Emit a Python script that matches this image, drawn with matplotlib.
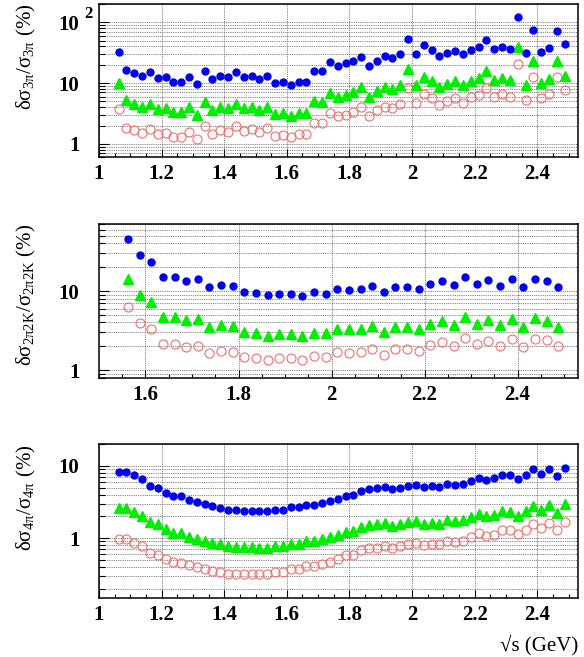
import numpy as np
import matplotlib
matplotlib.use("Agg")
import matplotlib.pyplot as plt
from matplotlib.ticker import LogLocator, FixedLocator, MultipleLocator, NullFormatter, FormatStrFormatter
import matplotlib.transforms as mtransforms

plt.rcParams['font.family'] = ['Liberation Serif', 'DejaVu Serif']
plt.rcParams['mathtext.fontset'] = 'custom'
plt.rcParams['mathtext.rm'] = 'Liberation Serif'
plt.rcParams['mathtext.it'] = 'Liberation Serif:italic'
plt.rcParams['mathtext.bf'] = 'Liberation Serif:bold'

# energy points (GeV), 25 MeV steps
e_full = np.arange(1.0625, 2.49, 0.025)
e_kk = np.arange(1.5625, 2.49, 0.025)

# 3pi relative errors (%)
pi3_blue = [33, 16.6, 14.4, 13.3, 15.2, 12.2, 12.6, 10.6, 10.6, 12.8, 9.7, 15.5, 11.6, 13.2, 12.4,
            15.0, 12.4, 13.2, 11.5, 13.0, 9.9, 10.5, 9.3, 10.4, 10.4, 16.0, 15.5, 22.0, 19.0,
            21.3, 22.7, 27.1, 19.3, 23.0, 27.4, 25.4, 30.0, 53.7, 30.4, 41.7, 35.4, 27.8, 31.2, 34.0,
            29.6, 35.4, 38.6, 50.4, 35.8, 39.2, 36.3, 123.6, 31.2, 74.6, 32.4, 37.8, 72.8, 43.3]
pi3_green = [10.2, 5.2, 4.5, 4.1, 4.6, 3.7, 3.9, 3.3, 3.3, 4.0, 3.0, 4.8, 3.6, 4.1, 3.9,
             4.6, 3.85, 4.1, 3.6, 4.05, 3.04, 3.24, 2.9, 3.2, 3.2, 5.0, 4.9, 6.8, 5.9,
             6.4, 7.1, 8.5, 5.9, 7.3, 8.5, 8.0, 9.3, 17.0, 9.3, 12.8, 11.0, 8.6, 9.6, 10.8,
             9.3, 11.0, 12.2, 16.0, 11.3, 12.2, 11.3, 38.6, 9.4, 22.7, 10.2, 11.8, 22.7, 13.2]
pi3_red = [3.7, 1.84, 1.66, 1.53, 1.77, 1.46, 1.48, 1.30, 1.30, 1.56, 1.22, 1.98, 1.46, 1.68, 1.57,
           1.94, 1.64, 1.77, 1.56, 1.80, 1.36, 1.41, 1.30, 1.44, 1.44, 2.24, 2.24, 3.2, 2.86,
           3.0, 3.37, 4.07, 2.9, 3.54, 4.1, 3.9, 4.56, 8.4, 4.7, 6.5, 5.6, 4.4, 5.0, 5.6,
           4.7, 5.8, 6.4, 8.2, 5.9, 6.6, 5.95, 20.8, 5.2, 12.8, 5.7, 6.7, 12.7, 7.55]

# 2pi2K relative errors (%)
kk_blue = [45.5, 28.6, 23.1, 14.9, 15.2, 13.6, 14.1, 11.2, 11.8, 11.5, 9.8, 9.5, 8.8, 9.3, 9.2,
           8.7, 9.6, 9.3, 10.7, 10.4, 10.6, 11.5, 9.8, 11.3, 11.2, 10.7, 12.4, 13.4, 11.9,
           15.0, 12.4, 13.8, 11.7, 14.2, 11.3, 14.3, 13.5, 11.2]
kk_green = [14.1, 8.8, 7.2, 4.7, 4.7, 4.25, 4.4, 3.5, 3.7, 3.57, 3.03, 2.91, 2.72, 2.86, 2.83,
            2.72, 2.97, 2.91, 3.33, 3.27, 3.33, 3.57, 3.0, 3.53, 3.5, 3.33, 3.86, 4.17, 3.67,
            4.64, 3.86, 4.3, 3.67, 4.47, 3.53, 4.51, 4.21, 3.5]
kk_red = [6.2, 3.94, 3.27, 2.11, 2.15, 1.97, 2.03, 1.63, 1.72, 1.69, 1.45, 1.41, 1.33, 1.42, 1.42,
          1.35, 1.49, 1.45, 1.69, 1.66, 1.69, 1.86, 1.56, 1.86, 1.84, 1.74, 2.07, 2.24, 2.01,
          2.54, 2.11, 2.35, 2.03, 2.49, 1.97, 2.49, 2.4, 2.03]

# 4pi relative errors (%)
pi4_blue = [8.3, 8.25, 7.4, 6.6, 5.28, 4.96, 4.27, 3.8, 3.8, 3.35, 3.14, 2.95, 2.8, 2.65, 2.46,
            2.44, 2.41, 2.41, 2.39, 2.39, 2.49, 2.46, 2.68, 2.68, 2.89, 2.9, 3.08, 3.28, 3.47,
            3.8, 3.93, 4.5, 4.8, 4.91, 5.17, 4.75, 5.01, 5.28, 5.51, 5.12, 5.23, 5.12, 5.69, 5.51,
            5.57, 6.26, 6.89, 6.46, 6.74, 7.41, 7.41, 6.67, 7.5, 8.97, 7.82, 9.17, 7.18, 9.46]
pi4_green = [2.6, 2.58, 2.34, 2.06, 1.66, 1.56, 1.35, 1.19, 1.19, 1.04, 0.98, 0.92, 0.87, 0.835, 0.775,
             0.76, 0.75, 0.75, 0.735, 0.735, 0.775, 0.77, 0.84, 0.835, 0.91, 0.92, 0.98, 1.04, 1.09,
             1.21, 1.25, 1.43, 1.51, 1.55, 1.63, 1.46, 1.58, 1.68, 1.75, 1.59, 1.63, 1.58, 1.79, 1.75,
             1.79, 1.97, 2.17, 2.04, 2.1, 2.36, 2.34, 2.06, 2.36, 2.83, 2.44, 2.89, 2.24, 3.01]
pi4_red = [0.96, 0.96, 0.87, 0.775, 0.614, 0.589, 0.507, 0.466, 0.456, 0.419, 0.394, 0.373, 0.354, 0.339, 0.322,
           0.318, 0.315, 0.318, 0.318, 0.318, 0.339, 0.339, 0.373, 0.377, 0.406, 0.416, 0.442, 0.466, 0.507,
           0.576, 0.589, 0.683, 0.728, 0.743, 0.792, 0.743, 0.775, 0.826, 0.862, 0.809, 0.826, 0.826, 0.929, 0.89,
           0.9, 1.054, 1.19, 1.08, 1.12, 1.29, 1.29, 1.15, 1.28, 1.55, 1.37, 1.61, 1.29, 1.7]

ylabels = [r'δσ$_{\mathrm{3π}}$/σ$_{\mathrm{3π}}$ (%)',
           r'δσ$_{\mathrm{2π2K}}$/σ$_{\mathrm{2π2K}}$ (%)',
           r'δσ$_{\mathrm{4π}}$/σ$_{\mathrm{4π}}$ (%)']


def draw_panel(ax, x, blue, green, red, xlim, ylim, yticks, ylabel):
    ax.plot(x, red, 'o', ms=6.5, mfc='none', mec='#f07070', mew=0.8, ls='none')
    ax.plot(x, green, '^', ms=7, color='#00ee00', ls='none')
    ax.plot(x, blue, 'o', ms=5, color='#0000ee', ls='none')

    ax.set_yscale('log')
    ax.set_xlim(xlim)
    ax.set_ylim(ylim)

    ax.xaxis.set_major_locator(MultipleLocator(0.2))
    ax.xaxis.set_minor_locator(MultipleLocator(0.05))
    ax.xaxis.set_major_formatter(FormatStrFormatter('%g'))
    ax.yaxis.set_major_locator(FixedLocator(yticks))
    ax.yaxis.set_minor_locator(LogLocator(base=10, subs=np.arange(2, 10)))
    ax.yaxis.set_minor_formatter(NullFormatter())
    ax.set_yticklabels(['1', '10', '10'][:len(yticks)])

    ax.grid(True, axis='x', which='major', ls=(0, (1, 1.2)), color='0.35', lw=0.6)
    ax.grid(True, axis='y', which='both', ls=(0, (1, 1.2)), color='0.35', lw=0.6)
    ax.set_axisbelow(True)

    ax.tick_params(axis='both', which='both', direction='in', top=False, right=False)
    ax.tick_params(axis='x', which='major', length=6, width=0.8, pad=5)
    ax.tick_params(axis='x', which='minor', length=3, width=0.8)
    ax.tick_params(axis='y', which='major', length=7, width=0.8, pad=14)
    ax.tick_params(axis='y', which='minor', length=4, width=0.8)
    for lab in ax.get_xticklabels() + ax.get_yticklabels():
        lab.set_fontweight('bold')
        lab.set_fontsize(15)
    for s in ax.spines.values():
        s.set_linewidth(1.1)

    ax.set_ylabel(ylabel, fontsize=15, loc='top', va='center')
    ax.yaxis.set_label_coords(-0.152, 1.0)


fig = plt.figure(figsize=(5.84, 6.57), dpi=100)
ax1 = fig.add_axes([0.1695, 0.7606, 0.8202, 0.2333])
ax2 = fig.add_axes([0.1695, 0.4251, 0.8202, 0.2335])
ax3 = fig.add_axes([0.1695, 0.0903, 0.8202, 0.2335])

draw_panel(ax1, e_full, pi3_blue, pi3_green, pi3_red, (1.0, 2.53), (0.6, 200), [1, 10, 100], ylabels[0])
draw_panel(ax2, e_kk, kk_blue, kk_green, kk_red, (1.5, 2.53), (0.8, 70), [1, 10], ylabels[1])
draw_panel(ax3, e_full, pi4_blue, pi4_green, pi4_red, (1.0, 2.53), (0.15, 20), [1, 10], ylabels[2])

# exponent of the 10^2 label
trans = mtransforms.blended_transform_factory(ax1.transAxes, ax1.transData)
ax1.text(-0.022, 100, '2', transform=trans, ha='center', va='bottom',
         fontsize=12, fontweight='bold')

ax3.set_xlabel('√s (GeV)', fontsize=15, loc='right', va='top')
ax3.xaxis.set_label_coords(1.0, -0.24)

fig.savefig('out.png', dpi=100)
